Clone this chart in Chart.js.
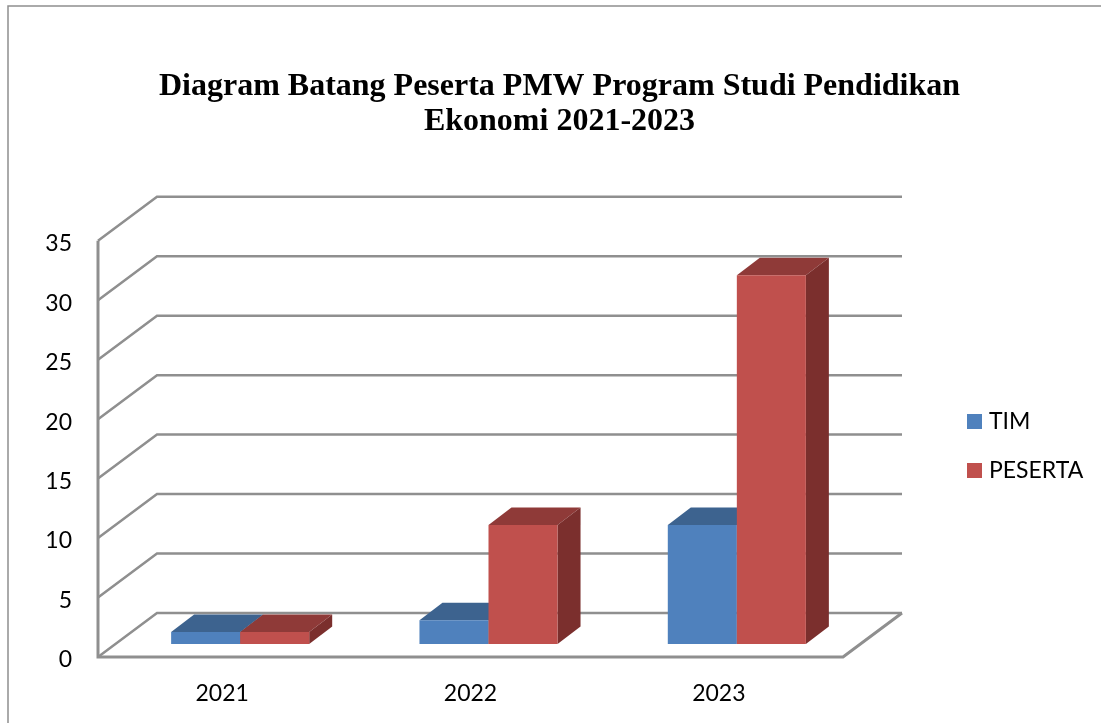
<!DOCTYPE html>
<html>
<head>
<meta charset="utf-8">
<title>Diagram Batang Peserta PMW</title>
<script src="https://cdn.jsdelivr.net/npm/chart.js@4"></script>
<style>
  html, body { margin: 0; padding: 0; background: #fff; }
  canvas { display: block; }
</style>
</head>
<body>
<canvas id="pmwChart" width="1101" height="723"></canvas>
<script>
const years = ['2021', '2022', '2023'];
const timValues = [1, 2, 10];
const pesertaValues = [1, 10, 31];
const tickStep = 5;
const tickMax = 35;

const WALL_DX = 59, WALL_DY = 44;   // kedalaman dinding belakang
const BAR_DX = 18, BAR_DY = 13;     // posisi batang di atas lantai
const BAR_DEPTH_X = 23, BAR_DEPTH_Y = 17.5;
const GRID_COLOR = '#8f8f8f';
const labelFont = { family: 'Lato', size: 23 };

function poly(ctx, color, pts) {
    ctx.fillStyle = color;
    ctx.beginPath();
    pts.forEach((p, i) => i ? ctx.lineTo(p[0], p[1]) : ctx.moveTo(p[0], p[1]));
    ctx.closePath();
    ctx.fill();
}

const frame3d = {
    id: 'frame3d',
    afterLayout(chart) {
        // legenda dan judul tidak mengikuti pusat area plot
        const legend = chart.legend;
        legend.left = 945.5;
        legend.right = 1101;
        legend.top = 242;
        legend.bottom = 650;
        chart.titleBlock.left = 0;
        chart.titleBlock.right = 1119;
    },
    beforeDraw(chart) {
        const ctx = chart.ctx;
        ctx.save();
        ctx.strokeStyle = '#8f8f8f';
        ctx.lineWidth = 1.5;
        ctx.beginPath();
        ctx.moveTo(8, 723);
        ctx.lineTo(8, 6);
        ctx.lineTo(1101, 6);
        ctx.stroke();
        ctx.restore();
    },
    beforeDatasetsDraw(chart) {
        const ctx = chart.ctx;
        const { left, right } = chart.chartArea;
        const yScale = chart.scales.y;
        ctx.save();
        ctx.strokeStyle = GRID_COLOR;
        ctx.lineWidth = 2.5;
        ctx.lineJoin = 'miter';
        yScale.ticks.forEach(t => {
            const y = yScale.getPixelForValue(t.value);
            ctx.beginPath();
            ctx.moveTo(left, y);
            ctx.lineTo(left + WALL_DX, y - WALL_DY);
            ctx.lineTo(right + WALL_DX, y - WALL_DY);
            ctx.stroke();
        });
        const y0 = yScale.getPixelForValue(0);
        ctx.lineWidth = 3;
        ctx.beginPath();
        ctx.moveTo(left, yScale.getPixelForValue(tickMax));
        ctx.lineTo(left, y0);
        ctx.lineTo(right, y0);
        ctx.lineTo(right + WALL_DX, y0 - WALL_DY);
        ctx.stroke();
        ctx.restore();
    },
    beforeDatasetDraw() {
        return false; // batang bawaan tidak digambar
    },
    afterDatasetsDraw(chart) {
        // TIM dulu, lalu PESERTA menutupi sisinya
        const ctx = chart.ctx;
        chart.data.datasets.forEach((ds, index) => {
            chart.getDatasetMeta(index).data.forEach(bar => {
                const p = bar.getProps(['x', 'y', 'base', 'width'], true);
                const x0 = p.x - p.width / 2 + BAR_DX;
                const x1 = p.x + p.width / 2 + BAR_DX;
                const top = p.y - BAR_DY;
                const bottom = p.base - BAR_DY;
                poly(ctx, ds.topColor, [[x0, top], [x1, top], [x1 + BAR_DEPTH_X, top - BAR_DEPTH_Y], [x0 + BAR_DEPTH_X, top - BAR_DEPTH_Y]]);
                poly(ctx, ds.sideColor, [[x1, top], [x1 + BAR_DEPTH_X, top - BAR_DEPTH_Y], [x1 + BAR_DEPTH_X, bottom - BAR_DEPTH_Y], [x1, bottom]]);
                poly(ctx, ds.backgroundColor, [[x0, top], [x1, top], [x1, bottom], [x0, bottom]]);
            });
        });
    }
};

new Chart(document.getElementById('pmwChart'), {
    type: 'bar',
    data: {
        labels: years,
        datasets: [{
            label: 'TIM',
            data: timValues,
            backgroundColor: '#4f81bd',
            topColor: '#3d638f',
            sideColor: '#345579'
        }, {
            label: 'PESERTA',
            data: pesertaValues,
            backgroundColor: '#c0504d',
            topColor: '#8f3a38',
            sideColor: '#7b2f2d'
        }]
    },
    plugins: [frame3d],
    options: {
        responsive: false,
        animation: false,
        categoryPercentage: 0.556,
        barPercentage: 1,
        layout: { padding: { right: 258 } },
        plugins: {
            tooltip: { enabled: false },
            title: {
                display: true,
                text: ['Diagram Batang Peserta PMW Program Studi Pendidikan', 'Ekonomi 2021-2023'],
                color: '#000',
                font: { family: 'Liberation Serif', size: 32, weight: 'bold', lineHeight: 1.09 },
                padding: { top: 69.5, bottom: 101.5 }
            },
            legend: {
                position: 'chartArea',
                labels: {
                    usePointStyle: true,
                    pointStyle: 'rect',
                    boxWidth: 6,
                    boxHeight: 15,
                    padding: 26,
                    color: '#000',
                    font: labelFont
                }
            }
        },
        scales: {
            x: {
                grid: { display: false },
                border: { display: false },
                ticks: { color: '#000', font: labelFont, padding: 15, maxRotation: 0 },
                afterFit(scale) { scale.height = 66; }
            },
            y: {
                min: 0,
                max: tickMax,
                grid: { display: false },
                border: { display: false },
                ticks: { stepSize: tickStep, color: '#000', font: labelFont, padding: 18, labelOffset: 3 },
                afterFit(scale) { scale.width = 98; }
            }
        }
    }
});
</script>
</body>
</html>
